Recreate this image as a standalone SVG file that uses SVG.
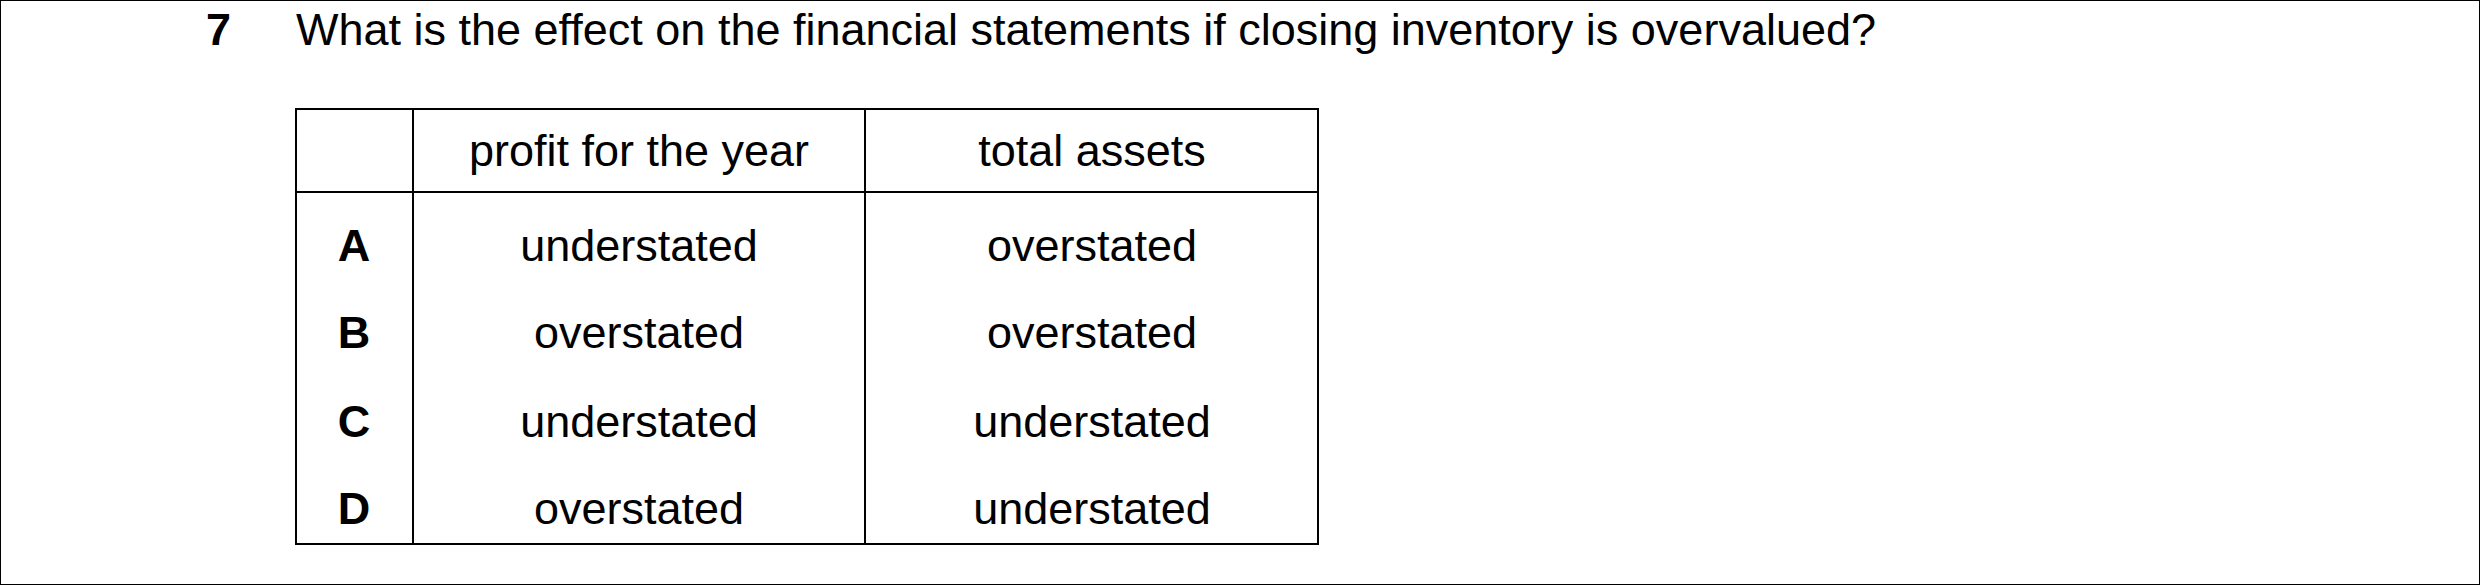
<svg xmlns="http://www.w3.org/2000/svg" width="2480" height="585" viewBox="0 0 2480 585">
<style>
text{font-family:"Liberation Sans",Arial,sans-serif;font-size:45px;fill:#000}
.b{font-weight:bold}
.c{text-anchor:middle}
line,rect{stroke:#000;stroke-width:2;fill:none}
</style>
<rect width="2480" height="585" fill="#fff" stroke="none"/>
<text class="b" x="206" y="45">7</text>
<text x="296" y="45">What is the effect on the financial statements if closing inventory is overvalued?</text>
<g id="table">
<rect x="296" y="109" width="1022" height="435"/>
<line x1="413" y1="109" x2="413" y2="544"/>
<line x1="865" y1="109" x2="865" y2="544"/>
<line x1="296" y1="192" x2="1318" y2="192"/>
</g>
<g id="header"><text class="c" x="639" y="166">profit for the year</text><text class="c" x="1092" y="166">total assets</text></g>
<g id="rowA"><text class="b c" x="354" y="261">A</text><text class="c" x="639" y="261">understated</text><text class="c" x="1092" y="261">overstated</text></g>
<g id="rowB"><text class="b c" x="354" y="348">B</text><text class="c" x="639" y="348">overstated</text><text class="c" x="1092" y="348">overstated</text></g>
<g id="rowC"><text class="b c" x="354" y="437">C</text><text class="c" x="639" y="437">understated</text><text class="c" x="1092" y="437">understated</text></g>
<g id="rowD"><text class="b c" x="354" y="524">D</text><text class="c" x="639" y="524">overstated</text><text class="c" x="1092" y="524">understated</text></g>
</svg>
